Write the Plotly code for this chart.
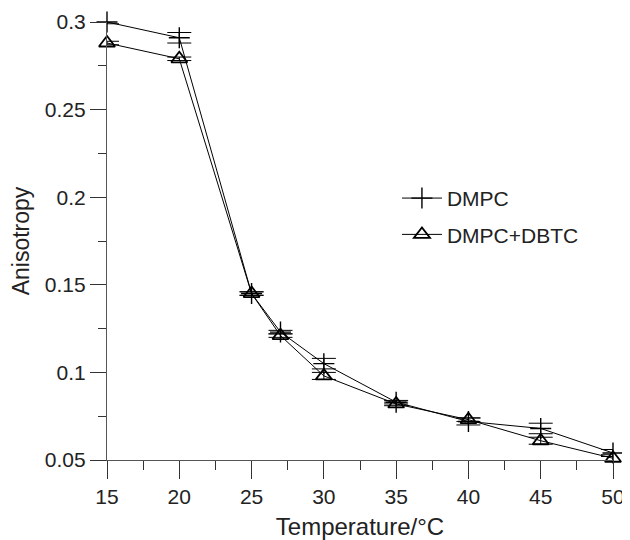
import plotly.graph_objects as go

temps = [15, 20, 25, 27, 30, 35, 40, 45, 50]
dmpc = [0.300, 0.291, 0.145, 0.123, 0.105, 0.083, 0.072, 0.068, 0.054]
dmpc_err = [0.001, 0.003, 0.001, 0.001, 0.003, 0.001, 0.002, 0.003, 0.002]
dbtc = [0.288, 0.279, 0.145, 0.121, 0.098, 0.082, 0.073, 0.061, 0.051]
dbtc_err = [0.001, 0.001, 0.001, 0.001, 0.002, 0.001, 0.001, 0.002, 0.002]

x_ticks = [15, 20, 25, 30, 35, 40, 45, 50]
y_ticks = [0.05, 0.1, 0.15, 0.2, 0.25, 0.3]
y_tick_text = ["0.05", "0.1", "0.15", "0.2", "0.25", "0.3"]

FONT = "Liberation Sans, Arial, sans-serif"
TXT = "#222"

cross = dict(symbol="cross-thin", size=15, line=dict(color="black", width=1.4))
tri = dict(symbol="triangle-up-open", size=14, color="black", line=dict(color="black", width=1.8))

fig = go.Figure()
fig.add_trace(go.Scatter(
    x=temps, y=dmpc, name="DMPC", mode="lines+markers", showlegend=False,
    line=dict(color="black", width=1), marker=cross,
    error_y=dict(type="data", array=dmpc_err, color="black", thickness=1, width=12),
    cliponaxis=False,
))
fig.add_trace(go.Scatter(
    x=temps, y=dbtc, name="DMPC+DBTC", mode="lines+markers", showlegend=False,
    line=dict(color="black", width=1), marker=tri,
    error_y=dict(type="data", array=dbtc_err, color="black", thickness=1, width=12),
    cliponaxis=False,
))
# legend entries (no error bars in legend)
fig.add_trace(go.Scatter(x=[None], y=[None], name="DMPC", mode="lines+markers",
                         legendgroup="a", line=dict(color="black", width=1), marker=cross))
fig.add_trace(go.Scatter(x=[None], y=[None], name="DMPC+DBTC", mode="lines+markers",
                         legendgroup="b", line=dict(color="black", width=1), marker=tri))

fig.update_layout(
    width=622, height=532,
    margin=dict(l=99, r=17, t=14, b=80, autoexpand=False),
    paper_bgcolor="white", plot_bgcolor="white",
    font=dict(family=FONT, size=20, color=TXT),
    showlegend=True,
    legend=dict(x=0.573, y=0.644, xanchor="left", yanchor="top",
                bgcolor="rgba(0,0,0,0)", font=dict(size=21, family=FONT, color=TXT),
                traceorder="grouped", tracegroupgap=6, itemwidth=40),
)
fig.update_xaxes(
    automargin=False,
    range=[15, 50], tickvals=x_ticks, ticktext=[str(t) for t in x_ticks],
    showgrid=False, zeroline=False, showline=True, linecolor="#555", linewidth=1.2,
    ticks="outside", ticklen=18, tickwidth=1.2, tickcolor="#333",
    minor=dict(tickvals=[17.5, 22.5, 27.5, 32.5, 37.5, 42.5, 47.5], ticks="outside",
               ticklen=9, tickwidth=1.2, tickcolor="#333"),
    title=dict(text="Temperature/°C", font=dict(size=24, family=FONT, color=TXT), standoff=16),
    tickfont=dict(size=21, family=FONT, color=TXT),
)
fig.update_yaxes(
    automargin=False,
    range=[0.05, 0.3], tickvals=y_ticks, ticktext=y_tick_text,
    showgrid=False, zeroline=False, showline=True, linecolor="#555", linewidth=1.2,
    ticks="outside", ticklen=16, tickwidth=1.2, tickcolor="#333",
    minor=dict(tickvals=[0.075, 0.125, 0.175, 0.225, 0.275], ticks="outside",
               ticklen=8, tickwidth=1.2, tickcolor="#333"),
    title=dict(text="Anisotropy", font=dict(size=23, family=FONT, color=TXT), standoff=10),
    tickfont=dict(size=21, family=FONT, color=TXT),
)

fig.write_html("out.html")
